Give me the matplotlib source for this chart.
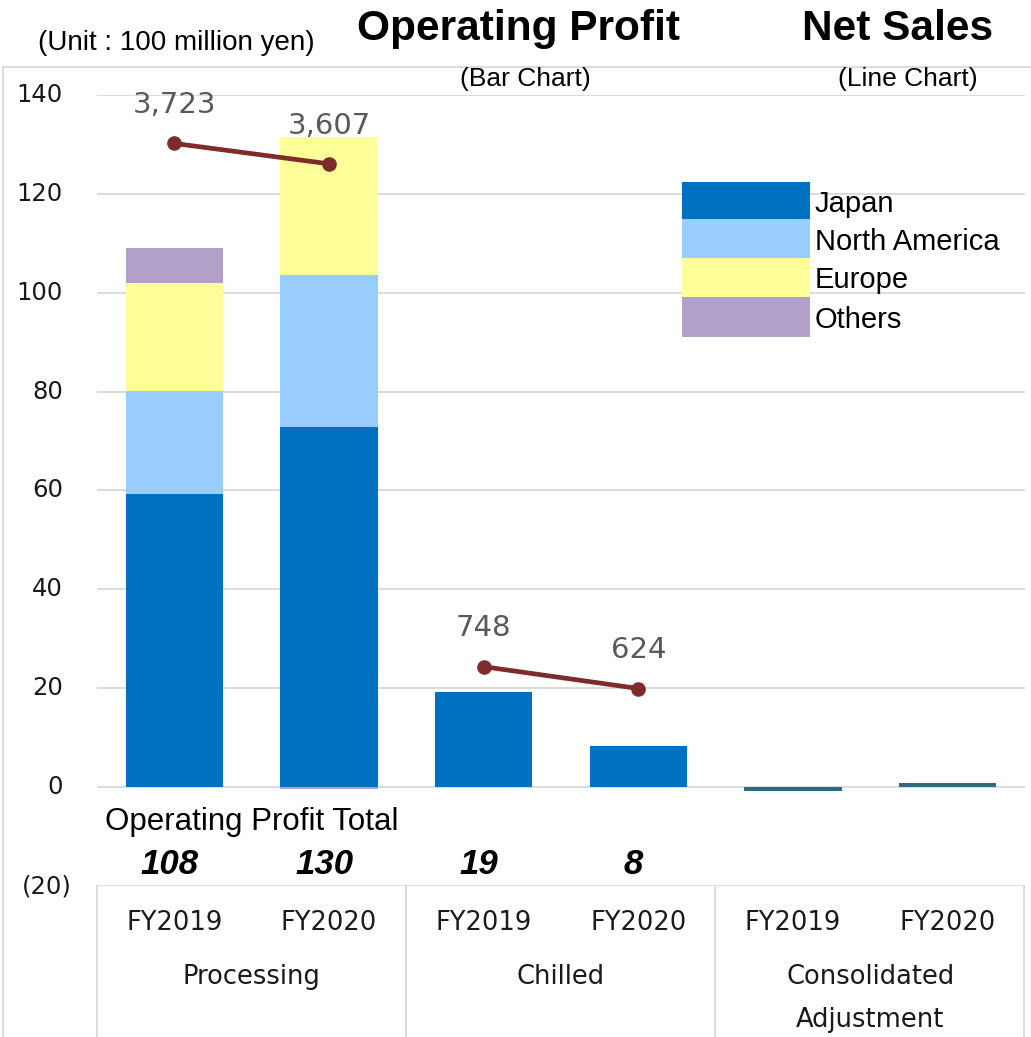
import matplotlib
matplotlib.use("Agg")
import matplotlib.pyplot as plt
import matplotlib.transforms as mtransforms
from matplotlib.lines import Line2D
from matplotlib.patches import Rectangle
import numpy as np

# ---- data (100 million yen) ----
segments = ["Processing", "Chilled", "Consolidated\nAdjustment"]
years = ["FY2019", "FY2020"]

region_names = ["Japan", "North America", "Europe", "Others"]
japan = [59.2, 72.9, 19.2, 8.35, 0.0, 0.0]
north_america = [20.9, 30.7, 0.0, 0.0, 0.0, 0.0]
europe = [21.9, 27.8, 0.0, 0.0, 0.0, 0.0]
others = [7.1, -0.4, 0.0, 0.0, 0.0, 0.0]
adjustment = [0.0, 0.0, 0.0, 0.0, -0.7, 0.8]

op_profit_total = [108, 130, 19, 8]

net_sales_processing = [3723, 3607]
net_sales_chilled = [748, 624]

y_ticks = [-20, 0, 20, 40, 60, 80, 100, 120, 140]

# ---- styling ----
W, H, DPI = 1031, 1037, 100
region_colors = ["#0070C0", "#99CCFF", "#FFFF99", "#B1A0C7"]
adj_color = "#2E6B80"
line_color = "#7E2B2B"
grid_color = "#D9D9D9"
ARIAL = "Liberation Sans"
VERDANA = "DejaVu Sans"


def fx(x):
    return x / W


def fy(y):
    return 1 - y / H


fig = plt.figure(figsize=(W / DPI, H / DPI), dpi=DPI)
ax = fig.add_axes([fx(97), fy(886.2), (1025 - 97) / W, (886.2 - 94.7) / H])

n = len(japan)
x = np.arange(n)
bar_w = 0.63

# stacked bars: positives stack upward, negatives downward
pos_bottom = np.zeros(n)
neg_bottom = np.zeros(n)
for vals, col in zip([japan, north_america, europe, others], region_colors):
    v = np.array(vals)
    bottom = np.where(v >= 0, pos_bottom, neg_bottom)
    ax.bar(x, v, bar_w, bottom=bottom, color=col, zorder=3, linewidth=0)
    pos_bottom += np.where(v >= 0, v, 0)
    neg_bottom += np.where(v < 0, v, 0)

ax.bar(x, adjustment, bar_w, color=adj_color, zorder=3, linewidth=0)

ax.set_xlim(-0.5, n - 0.5)
ax.set_ylim(-20, 140)
ax.set_yticks(y_ticks)
ax.set_xticks([])
ax.tick_params(axis="y", length=0, labelleft=False)
ax.yaxis.grid(True, color=grid_color, linewidth=1.3, zorder=0)
ax.set_axisbelow(True)
for s in ax.spines.values():
    s.set_visible(False)

# y tick labels (negatives in parentheses)
ytrans = mtransforms.blended_transform_factory(fig.transFigure, ax.transData)
for t in y_ticks:
    if t < 0:
        ax.text(fx(72), t, f"({abs(t)})", transform=ytrans, ha="right", va="center",
                fontsize=17.5, family=VERDANA, color="#1a1a1a", clip_on=False)
    else:
        ax.text(fx(63), t, f"{t}", transform=ytrans, ha="right", va="center",
                fontsize=17.5, family=VERDANA, color="#1a1a1a", clip_on=False)

# net sales lines on a hidden secondary scale
ax2 = ax.twinx()
ax2.set_ylim(-500, 4000)
ax2.axis("off")
for xs, vals in [([0, 1], net_sales_processing), ([2, 3], net_sales_chilled)]:
    ax2.plot(xs, vals, color=line_color, lw=3.4, marker="o", ms=9.5, zorder=5,
             solid_capstyle="round")
    for xi, v in zip(xs, vals):
        ax2.annotate(f"{v:,}", (xi, v), xytext=(0, 27.5), textcoords="offset points",
                     ha="center", va="center", fontsize=21, family=VERDANA,
                     color="#595959")

# legend drawn as stacked colour blocks
row_edges = [182, 219, 258, 297, 337]
for i, (name, col) in enumerate(zip(region_names, region_colors)):
    top, bot = row_edges[i], row_edges[i + 1]
    fig.patches.append(Rectangle((fx(682), fy(bot)), (810 - 682) / W, (bot - top) / H,
                                 transform=fig.transFigure, facecolor=col,
                                 edgecolor="none", zorder=4))
    fig.text(fx(815), fy((top + bot) / 2 + 3), name, ha="left", va="center",
             fontsize=21, family=ARIAL, color="black")

# titles
fig.text(fx(176), fy(50), "(Unit : 100 million yen)", ha="center", va="baseline",
         fontsize=20, family=ARIAL)
fig.text(fx(518.5), fy(40), "Operating Profit", ha="center", va="baseline",
         fontsize=30.5, family=ARIAL, weight="bold")
fig.text(fx(898), fy(40), "Net Sales", ha="center", va="baseline",
         fontsize=30.5, family=ARIAL, weight="bold")
fig.text(fx(525), fy(86), "(Bar Chart)", ha="center", va="baseline",
         fontsize=19, family=ARIAL)
fig.text(fx(907.5), fy(86), "(Line Chart)", ha="center", va="baseline",
         fontsize=19, family=ARIAL)

# operating profit totals
xtrans = mtransforms.blended_transform_factory(ax.transData, fig.transFigure)
ax.text(0.5, fy(822), "Operating Profit Total", transform=xtrans, ha="center",
        va="center", fontsize=22.5, family=ARIAL, clip_on=False)
for xi, v in enumerate(op_profit_total):
    ax.text(xi - 0.03, fy(865), f"{v}", transform=xtrans, ha="center", va="center",
            fontsize=25, family=ARIAL, weight="bold", style="italic", clip_on=False)

# category table
for xi in range(n):
    ax.text(xi, fy(923), years[xi % 2], transform=xtrans, ha="center", va="center",
            fontsize=18.5, family=VERDANA, color="#1a1a1a", clip_on=False)
for gi, seg in enumerate(segments):
    for li, line in enumerate(seg.split("\n")):
        ax.text(2 * gi + 0.5, fy(977 + 43 * li), line, transform=xtrans, ha="center",
                va="center", fontsize=18.5, family=VERDANA, color="#1a1a1a",
                clip_on=False)

for xp in [97, 406, 715, 1024]:
    fig.add_artist(Line2D([fx(xp), fx(xp)], [fy(886.2), fy(1037)], color=grid_color,
                          lw=1.3, transform=fig.transFigure))

# outer frame
fig.add_artist(Line2D([fx(3), fx(1031)], [fy(67), fy(67)], color=grid_color, lw=1.3,
                      transform=fig.transFigure))
fig.add_artist(Line2D([fx(3), fx(3)], [fy(67), fy(1037)], color=grid_color, lw=1.3,
                      transform=fig.transFigure))

fig.savefig("out.png", dpi=DPI)
